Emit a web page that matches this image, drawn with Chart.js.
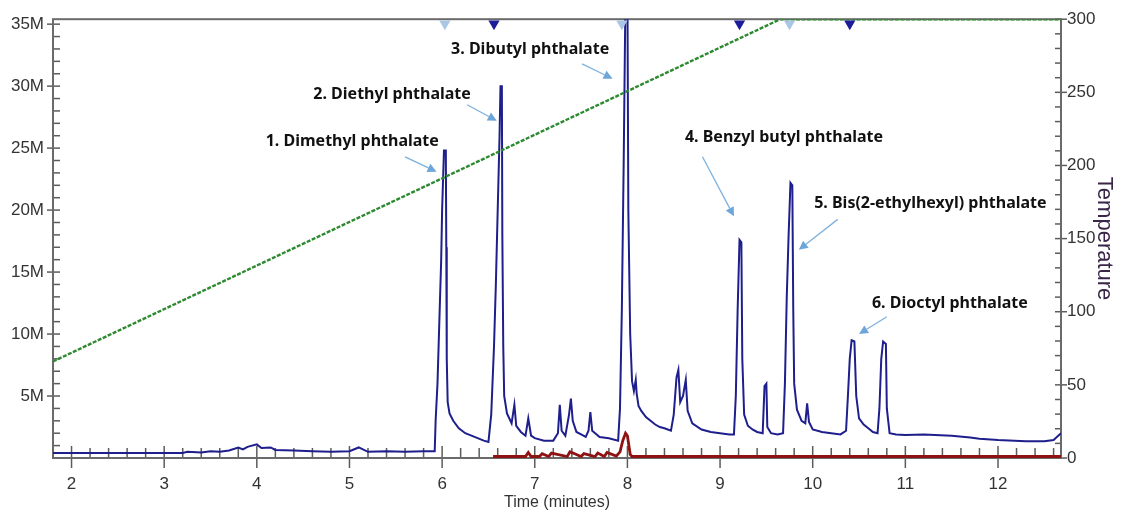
<!DOCTYPE html>
<html>
<head>
<meta charset="utf-8">
<script src="https://cdn.jsdelivr.net/npm/chart.js@4"></script>
<style>
  html, body { margin: 0; padding: 0; background: #fff; }
  canvas { display: block; }
</style>
</head>
<body>
<canvas id="chromChart" width="1123" height="514"></canvas>
<script>
// Chromatogram trace (time in minutes, signal in millions of counts)
const blueTime = [1.8, 3.2, 3.25, 3.4, 3.5, 3.6, 3.7, 3.8, 3.85, 3.9, 4.0, 4.05, 4.15, 4.2, 4.4, 4.6, 4.8, 5.0, 5.1, 5.2, 5.4, 5.6, 5.8, 5.92,
  5.93, 5.95, 5.97, 5.99, 6.0, 6.02, 6.04, 6.045, 6.05, 6.06, 6.08, 6.12, 6.18, 6.25, 6.35, 6.45, 6.5,
  6.53, 6.56, 6.58, 6.6, 6.62, 6.63, 6.645, 6.65, 6.66, 6.67, 6.7, 6.75, 6.78, 6.8, 6.85, 6.9, 6.93, 6.96, 7.0, 7.1, 7.2, 7.25, 7.27, 7.29, 7.33, 7.37, 7.39, 7.41, 7.45, 7.5, 7.55, 7.58, 7.6, 7.62, 7.7, 7.8, 7.9,
  7.92, 7.94, 7.96, 7.98, 8.0, 8.01, 8.03, 8.05, 8.07, 8.09, 8.1, 8.12, 8.15, 8.2, 8.25, 8.3, 8.35, 8.4, 8.47,
  8.5, 8.53, 8.55, 8.57, 8.6, 8.63, 8.65, 8.7, 8.8, 8.9, 9.0, 9.1, 9.15,
  9.17, 9.19, 9.21, 9.23, 9.24, 9.26, 9.3, 9.35, 9.4, 9.46, 9.48, 9.5, 9.51, 9.55, 9.62, 9.68,
  9.7, 9.72, 9.74, 9.76, 9.78, 9.79, 9.8, 9.83, 9.88, 9.92, 9.94, 9.96, 10.0, 10.1, 10.2, 10.3, 10.36,
  10.38, 10.4, 10.42, 10.45, 10.47, 10.5, 10.55, 10.6, 10.65, 10.7,
  10.72, 10.74, 10.76, 10.79, 10.8, 10.83, 10.9, 11.0, 11.2, 11.5, 11.7, 11.8, 12.0, 12.3, 12.5, 12.6, 12.68];
const blueSignal = [0.4, 0.4, 0.5, 0.45, 0.55, 0.5, 0.6, 0.85, 0.7, 0.9, 1.1, 0.8, 0.85, 0.65, 0.6, 0.55, 0.5, 0.55, 0.85, 0.5, 0.55, 0.5, 0.55, 0.55,
  3.0, 6, 11, 16, 20, 24.8, 24.8, 17, 8, 4.5, 3.6, 3.0, 2.4, 2.0, 1.7, 1.4, 1.3,
  3.5, 9, 14, 20, 26, 30, 30, 18, 9, 5, 3.6, 2.8, 4.3, 2.6, 2.1, 1.8, 3.2, 1.8, 1.6, 1.4, 1.4, 2.0, 4.3, 2.2, 1.8, 3.5, 4.8, 3.0, 2.1, 1.9, 1.7, 2.2, 3.7, 2.2, 1.7, 1.6, 1.4,
  4, 12, 24, 38, 38, 20, 10, 6.2, 5.4, 6.3, 5.2, 4.2, 3.8, 3.3, 3.0, 2.7, 2.5, 2.4, 2.2,
  3.5, 6.5, 7.1, 4.5, 5.0, 6.3, 3.8, 2.8, 2.3, 2.1, 2.0, 1.9, 1.9,
  5, 12, 17.6, 17.4, 8, 3.5, 2.6, 2.3, 2.1, 2.0, 5.8, 6.0, 2.5, 2.0, 1.9, 2.0,
  6, 13, 18, 22.2, 22, 12, 6, 3.9, 3.0, 2.8, 4.4, 2.9, 2.3, 2.1, 2.0, 1.9, 2.2,
  5, 8, 9.5, 9.4, 5, 3.2, 2.7, 2.4, 2.1, 2.0,
  4, 8, 9.4, 9.2, 4, 2.0, 1.9, 1.85, 1.9, 1.8, 1.65, 1.55, 1.45, 1.35, 1.35, 1.45, 2.0];

// Second (red) trace
const redTime = [6.55, 6.9, 6.93, 6.96, 7.05, 7.08, 7.15, 7.18, 7.35, 7.38, 7.5, 7.53, 7.65, 7.68, 7.75, 7.78, 7.88, 7.92, 7.95, 7.98, 8.0, 8.03, 8.05, 12.68];
const redSignal = [0.12, 0.12, 0.45, 0.12, 0.12, 0.35, 0.12, 0.4, 0.12, 0.5, 0.12, 0.35, 0.12, 0.4, 0.12, 0.45, 0.15, 0.5, 1.4, 2.0, 1.8, 0.3, 0.12, 0.12];

// Oven temperature program
const tempTime = [1.8, 9.65, 12.68];
const tempValue = [66, 300, 300];

// Peak markers along the top edge
const markerLight = [6.03, 7.94, 9.75];
const markerDark = [6.56, 9.21, 10.4];

// Axis ticks
const xTicks = [2, 3, 4, 5, 6, 7, 8, 9, 10, 11, 12];
const yTicks = [5, 10, 15, 20, 25, 30, 35];
const tempTicks = [0, 50, 100, 150, 200, 250, 300];

// Peak annotations (time, signal)
const labelText = ['1. Dimethyl phthalate', '2. Diethyl phthalate', '3. Dibutyl phthalate',
  '4. Benzyl butyl phthalate', '5. Bis(2-ethylhexyl) phthalate', '6. Dioctyl phthalate'];
const labelAt = [[5.03, 25.5], [5.46, 29.35], [6.95, 33.0], [9.69, 25.85], [11.27, 20.5], [11.48, 12.5]];
const arrowFrom = [[5.60, 24.3], [6.27, 28.5], [7.51, 31.8], [8.81, 24.3], [10.27, 19.25], [10.80, 11.4]];
const arrowTo = [[5.94, 23.1], [6.59, 27.2], [7.84, 30.6], [9.15, 19.5], [9.85, 16.8], [10.50, 10.0]];

const X_MIN = 1.8, X_MAX = 12.68, Y_MAX = 35.4;

const toPoints = (xs, ys) => xs.map((x, i) => ({ x: x, y: ys[i] }));

// frame + major/minor tick marks
const axisDecor = {
    id: 'axisDecor',
    beforeDatasetsDraw(chart) {
        const { ctx, chartArea: a } = chart;
        const sx = chart.scales.x, sy = chart.scales.y, st = chart.scales.yT;
        ctx.save();
        ctx.strokeStyle = '#5c5c5c';
        ctx.lineWidth = 1.5;
        const line = (x1, y1, x2, y2) => {
            ctx.beginPath(); ctx.moveTo(x1, y1); ctx.lineTo(x2, y2); ctx.stroke();
        };
        // x axis
        for (let i = Math.ceil(X_MIN / 0.2); i * 0.2 <= X_MAX + 1e-9; i++) {
            const v = Math.round(i * 0.2 * 10) / 10;
            const px = sx.getPixelForValue(v);
            if (xTicks.includes(v)) line(px, a.bottom - 12, px, a.bottom + 10);
            else line(px, a.bottom - 10, px, a.bottom);
        }
        // left axis
        for (let v = 1; v <= Y_MAX; v++) {
            const py = sy.getPixelForValue(v);
            if (yTicks.includes(v)) line(a.left - 6, py, a.left + 7, py);
            else line(a.left, py, a.left + 7, py);
        }
        // right axis
        for (let v = 0; v <= 300; v += 10) {
            const py = st.getPixelForValue(v);
            if (tempTicks.includes(v)) line(a.right - 6, py, a.right + 6, py);
            else line(a.right - 6, py, a.right, py);
        }
        ctx.lineWidth = 2;
        ctx.strokeStyle = '#6a6a6a';
        ctx.strokeRect(a.left, a.top, a.right - a.left, a.bottom - a.top);
        ctx.restore();
    }
};

// compound labels with arrows
const peakLabels = {
    id: 'peakLabels',
    afterDatasetsDraw(chart) {
        const { ctx } = chart;
        const sx = chart.scales.x, sy = chart.scales.y;
        ctx.save();
        ctx.font = 'bold 16px "Noto Sans", sans-serif';
        ctx.fillStyle = '#111';
        ctx.textAlign = 'center';
        ctx.textBaseline = 'middle';
        labelText.forEach((txt, i) => {
            ctx.fillText(txt, sx.getPixelForValue(labelAt[i][0]), sy.getPixelForValue(labelAt[i][1]));
        });
        ctx.strokeStyle = '#7fb1de';
        ctx.fillStyle = '#6fa6da';
        ctx.lineWidth = 1.3;
        arrowFrom.forEach((p, i) => {
            const x1 = sx.getPixelForValue(p[0]), y1 = sy.getPixelForValue(p[1]);
            const x2 = sx.getPixelForValue(arrowTo[i][0]), y2 = sy.getPixelForValue(arrowTo[i][1]);
            const ang = Math.atan2(y2 - y1, x2 - x1);
            const hl = 9, hw = 4.5;
            const bx = x2 - hl * Math.cos(ang), by = y2 - hl * Math.sin(ang);
            ctx.beginPath(); ctx.moveTo(x1, y1); ctx.lineTo(bx, by); ctx.stroke();
            ctx.beginPath();
            ctx.moveTo(x2, y2);
            ctx.lineTo(bx - hw * Math.sin(ang), by + hw * Math.cos(ang));
            ctx.lineTo(bx + hw * Math.sin(ang), by - hw * Math.cos(ang));
            ctx.closePath(); ctx.fill();
        });
        ctx.restore();
    }
};

document.addEventListener('DOMContentLoaded', function() {
    const ctx = document.getElementById('chromChart');
    const markerY = Y_MAX - 0.36;

    new Chart(ctx, {
        type: 'line',
        data: {
            datasets: [
                {
                    label: 'Markers light',
                    type: 'scatter',
                    data: markerLight.map(t => ({ x: t, y: markerY })),
                    yAxisID: 'y',
                    pointStyle: 'triangle',
                    rotation: 180,
                    pointRadius: 6.5,
                    backgroundColor: '#a9c6e4',
                    borderColor: '#a9c6e4',
                    borderWidth: 0,
                    order: 0
                },
                {
                    label: 'Markers dark',
                    type: 'scatter',
                    data: markerDark.map(t => ({ x: t, y: markerY })),
                    yAxisID: 'y',
                    pointStyle: 'triangle',
                    rotation: 180,
                    pointRadius: 6.5,
                    backgroundColor: '#1c1c9a',
                    borderColor: '#1c1c9a',
                    borderWidth: 0,
                    order: 0
                },
                {
                    label: 'Temperature',
                    data: toPoints(tempTime, tempValue),
                    yAxisID: 'yT',
                    borderColor: '#2e8a30',
                    borderWidth: 2.4,
                    borderDash: [4, 1.5],
                    pointRadius: 0,
                    tension: 0,
                    order: 1
                },
                {
                    label: 'TIC',
                    data: toPoints(blueTime, blueSignal),
                    yAxisID: 'y',
                    borderColor: '#1e1e8c',
                    borderWidth: 2,
                    pointRadius: 0,
                    tension: 0,
                    order: 2
                },
                {
                    label: 'Trace 2',
                    data: toPoints(redTime, redSignal),
                    yAxisID: 'y',
                    borderColor: '#8e1212',
                    borderWidth: 2.8,
                    pointRadius: 0,
                    tension: 0,
                    order: 3
                }
            ]
        },
        options: {
            responsive: false,
            animation: false,
            devicePixelRatio: 1,
            layout: { padding: { top: 13, left: 0, right: 0, bottom: 0 } },
            plugins: {
                legend: { display: false },
                tooltip: { enabled: false }
            },
            scales: {
                x: {
                    type: 'linear',
                    min: X_MIN,
                    max: X_MAX,
                    afterBuildTicks: s => { s.ticks = xTicks.map(v => ({ value: v })); },
                    afterFit: s => { s.height = 56; },
                    grid: { display: false, drawTicks: false },
                    border: { display: false },
                    ticks: {
                        color: '#333',
                        padding: 16,
                        maxRotation: 0,
                        font: { family: '"Liberation Sans", Arial, sans-serif', size: 17 }
                    },
                    title: {
                        display: true,
                        text: 'Time (minutes)',
                        color: '#333',
                        padding: 2,
                        font: { family: '"Liberation Sans", Arial, sans-serif', size: 16 }
                    }
                },
                y: {
                    position: 'left',
                    min: 0,
                    max: Y_MAX,
                    afterBuildTicks: s => { s.ticks = yTicks.map(v => ({ value: v })); },
                    afterFit: s => { s.width = 53; },
                    grid: { display: false, drawTicks: false },
                    border: { display: false },
                    ticks: {
                        color: '#333',
                        padding: 9,
                        callback: v => v + 'M',
                        font: { family: '"Liberation Sans", Arial, sans-serif', size: 17 }
                    }
                },
                yT: {
                    position: 'right',
                    min: 0,
                    max: 300,
                    afterBuildTicks: s => { s.ticks = tempTicks.map(v => ({ value: v })); },
                    afterFit: s => { s.width = 62; },
                    grid: { display: false, drawTicks: false },
                    border: { display: false },
                    ticks: {
                        color: '#333',
                        padding: 6,
                        font: { family: '"Liberation Sans", Arial, sans-serif', size: 17 }
                    },
                    title: {
                        display: true,
                        text: 'Temperature',
                        color: '#3a2548',
                        padding: 6,
                        font: { family: '"Liberation Sans", Arial, sans-serif', size: 22 }
                    }
                }
            }
        },
        plugins: [axisDecor, peakLabels]
    });
});
</script>
</body>
</html>
